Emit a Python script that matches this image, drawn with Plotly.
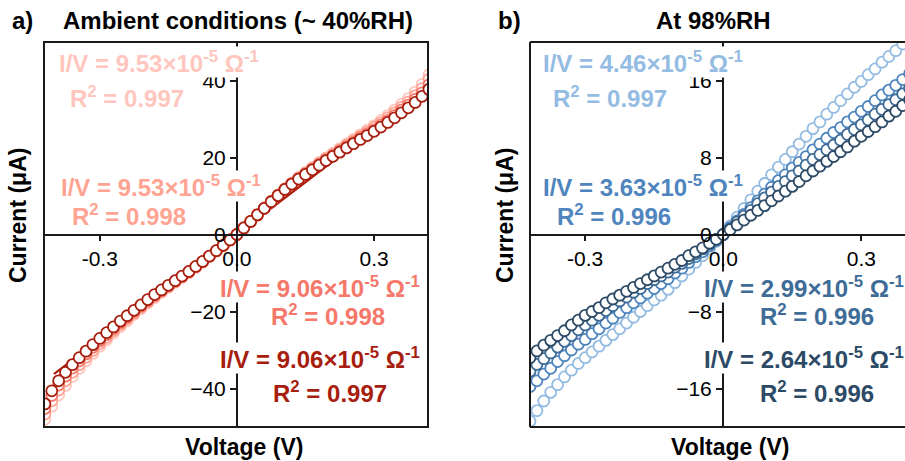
import plotly.graph_objects as go

# ---------------- data ----------------
V = [-0.42, -0.405, -0.39, -0.375, -0.36, -0.345, -0.33, -0.315, -0.30, -0.285,
     -0.27, -0.255, -0.24, -0.225, -0.21, -0.195, -0.18, -0.165, -0.15, -0.135,
     -0.12, -0.105, -0.09, -0.075, -0.06, -0.045, -0.03, -0.015, 0.0,
     0.015, 0.03, 0.045, 0.06, 0.075, 0.09, 0.105, 0.12, 0.135, 0.15, 0.165,
     0.18, 0.195, 0.21, 0.225, 0.24, 0.255, 0.27, 0.285, 0.30, 0.315,
     0.33, 0.345, 0.36, 0.375, 0.39, 0.405, 0.42]

# panel a (ambient) currents, uA
a_pink = [-48.0, -44.6, -41.7, -39.2, -36.9, -34.8, -32.8, -30.9, -29.0, -27.3,
          -25.6, -23.9, -22.4, -20.8, -19.3, -17.8, -16.4, -15.0, -13.7, -12.4,
          -11.1, -9.9, -8.5, -7.2, -5.7, -4.3, -2.9, -1.4, 0.0,
          1.7, 3.4, 5.1, 6.9, 8.6, 10.3, 11.9, 13.4, 14.8, 16.1, 17.4,
          18.7, 19.9, 21.1, 22.3, 23.5, 24.7, 25.9, 27.1, 28.3, 29.6,
          30.9, 32.3, 33.8, 35.3, 37.0, 39.0, 41.5]
a_salmon = [-46.6, -43.2, -40.4, -38.0, -35.8, -33.8, -31.9, -30.1, -28.3, -26.7,
            -25.0, -23.4, -21.9, -20.4, -18.9, -17.5, -16.1, -14.8, -13.5, -12.3,
            -11.0, -9.8, -8.4, -7.1, -5.7, -4.3, -2.9, -1.4, 0.0,
            1.7, 3.4, 5.1, 6.9, 8.6, 10.2, 11.8, 13.3, 14.7, 15.9, 17.2,
            18.5, 19.7, 20.8, 22.0, 23.2, 24.3, 25.5, 26.6, 27.8, 29.0,
            30.3, 31.6, 33.0, 34.4, 36.0, 37.9, 40.3]
a_coral = [-45.2, -41.8, -39.1, -36.8, -34.7, -32.8, -31.0, -29.3, -27.6, -26.0,
           -24.5, -22.9, -21.5, -20.0, -18.6, -17.2, -15.8, -14.6, -13.4, -12.1,
           -10.9, -9.7, -8.4, -7.1, -5.6, -4.2, -2.8, -1.4, 0.0,
           1.7, 3.4, 5.1, 6.8, 8.5, 10.2, 11.8, 13.2, 14.5, 15.8, 17.0,
           18.2, 19.4, 20.5, 21.7, 22.8, 23.9, 25.1, 26.1, 27.2, 28.4,
           29.6, 30.9, 32.3, 33.6, 35.1, 36.8, 38.9]
a_dark = [-44.0, -40.6, -38.0, -35.8, -33.8, -32.0, -30.3, -28.6, -27.0, -25.5,
          -24.0, -22.5, -21.1, -19.7, -18.3, -16.9, -15.6, -14.4, -13.2, -12.0,
          -10.8, -9.6, -8.3, -7.0, -5.6, -4.2, -2.8, -1.4, 0.0,
          1.7, 3.4, 5.1, 6.8, 8.5, 10.1, 11.7, 13.1, 14.4, 15.6, 16.8,
          18.0, 19.2, 20.3, 21.4, 22.5, 23.6, 24.7, 25.7, 26.8, 27.9,
          29.1, 30.3, 31.6, 32.9, 34.3, 35.9, 37.7]

# panel b (98%RH) currents, uA
b_light = [-19.4, -18.3, -17.3, -16.4, -15.6, -14.8, -14.1, -13.4, -12.8, -12.2,
           -11.6, -11.0, -10.4, -9.8, -9.2, -8.6, -8.0, -7.4, -6.8, -6.3,
           -5.7, -5.0, -4.3, -3.6, -2.9, -2.2, -1.5, -0.7, 0.0,
           0.9, 1.8, 2.7, 3.6, 4.5, 5.3, 6.2, 7.0, 7.8, 8.6, 9.4,
           10.2, 11.0, 11.7, 12.5, 13.2, 13.9, 14.6, 15.3, 15.9, 16.6,
           17.2, 17.9, 18.5, 19.1, 19.8, 20.4, 21.1]
b_medium = [-15.8, -15.2, -14.5, -13.9, -13.2, -12.6, -12.0, -11.4, -10.9, -10.3,
            -9.8, -9.2, -8.7, -8.1, -7.6, -7.1, -6.6, -6.1, -5.6, -5.1,
            -4.6, -4.0, -3.5, -2.9, -2.3, -1.8, -1.2, -0.6, 0.0,
            0.7, 1.4, 2.1, 2.8, 3.5, 4.2, 4.9, 5.6, 6.2, 6.9, 7.5,
            8.1, 8.8, 9.4, 10.0, 10.6, 11.1, 11.7, 12.2, 12.8, 13.3,
            13.9, 14.5, 15.0, 15.5, 16.1, 16.7, 17.3]
b_steel = [-14.2, -13.5, -12.9, -12.3, -11.7, -11.1, -10.5, -9.9, -9.4, -8.9,
           -8.4, -7.9, -7.4, -6.9, -6.5, -6.0, -5.6, -5.1, -4.7, -4.3,
           -3.9, -3.4, -3.0, -2.5, -2.0, -1.5, -1.0, -0.5, 0.0,
           0.6, 1.3, 1.9, 2.5, 3.2, 3.8, 4.4, 5.0, 5.5, 6.1, 6.6,
           7.2, 7.8, 8.3, 8.8, 9.3, 9.8, 10.4, 10.9, 11.4, 11.9,
           12.5, 13.0, 13.5, 14.0, 14.6, 15.2, 15.8]
b_navy = [-12.8, -12.1, -11.5, -11.0, -10.5, -10.0, -9.4, -8.9, -8.4, -8.0,
          -7.6, -7.1, -6.7, -6.3, -5.9, -5.5, -5.1, -4.7, -4.3, -3.9,
          -3.5, -3.1, -2.7, -2.2, -1.8, -1.4, -0.9, -0.5, 0.0,
          0.5, 1.0, 1.5, 2.0, 2.5, 3.0, 3.5, 4.0, 4.5, 5.0, 5.5,
          6.1, 6.6, 7.1, 7.6, 8.1, 8.6, 9.1, 9.7, 10.2, 10.7,
          11.2, 11.7, 12.3, 12.8, 13.4, 14.0, 14.6]

# linear fits (I/V, uA per V) for panel a
a_slopes = [95.3, 95.3, 90.6, 90.6]
fit_V = [-0.40, 0.42]

a_labels = [("9.53", "0.997"), ("9.53", "0.998"), ("9.06", "0.998"), ("9.06", "0.997")]
b_labels = [("4.46", "0.997"), ("3.63", "0.996"), ("2.99", "0.996"), ("2.64", "0.996")]

a_colors = ["#FFC6BE", "#FFA393", "#F5786A", "#A81E0E"]
b_colors = ["#94BCE3", "#4F85BE", "#3E6C97", "#2C4A66"]

a_xticks = [-0.3, 0.0, 0.3]
a_xtext = ["-0.3", "0.0", "0.3"]
a_yticks = [-40, -20, 0, 20, 40]
b_yticks = [-16, -8, 0, 8, 16]

# ---------------- layout helpers ----------------
W, H = 905, 461
FONT = "Liberation Sans, Arial, sans-serif"
INK = "#1a1a1a"
MSIZE = 11
MLINE = 1.8


def px(x):
    return x / W


def py(y):
    return 1 - y / H


fig = go.Figure()

a_series = [a_pink, a_salmon, a_coral, a_dark]
for s, c, k in zip(a_series, a_colors, a_slopes):
    fig.add_trace(go.Scatter(x=fit_V, y=[k * v for v in fit_V], mode="lines",
                             line=dict(color=c, width=2), xaxis="x", yaxis="y",
                             hoverinfo="skip"))
for s, c in zip(a_series, a_colors):
    fig.add_trace(go.Scatter(x=V, y=s, mode="markers", xaxis="x", yaxis="y",
                             marker=dict(symbol="circle", size=MSIZE, color="white",
                                         line=dict(color=c, width=MLINE))))

b_series = [b_light, b_medium, b_steel, b_navy]
for s, c in zip(b_series, b_colors):
    fig.add_trace(go.Scatter(x=V, y=s, mode="markers", xaxis="x2", yaxis="y2",
                             marker=dict(symbol="circle", size=MSIZE, color="white",
                                         line=dict(color=c, width=MLINE))))

ydom = [py(427), py(42)]
yzero = (ydom[0] + ydom[1]) / 2

tickfont = dict(family=FONT, size=21, color="black")
common_x = dict(showline=True, linecolor=INK, linewidth=2, ticks="outside",
                ticklen=5, tickwidth=2, tickcolor=INK, showgrid=False,
                zeroline=False, tickfont=tickfont, anchor="free", position=yzero)
common_y = dict(showline=True, linecolor=INK, linewidth=2, ticks="outside",
                ticklen=6, tickwidth=2, tickcolor=INK, showgrid=False,
                zeroline=False, tickfont=tickfont, anchor="free", domain=ydom)

fig.update_layout(
    width=W, height=H, margin=dict(l=0, r=0, t=0, b=0),
    paper_bgcolor="white", plot_bgcolor="white", showlegend=False,
    xaxis=dict(domain=[px(44), px(428)], range=[-0.422, 0.418],
               tickvals=a_xticks, ticktext=a_xtext, **common_x),
    yaxis=dict(range=[-50, 50], tickvals=a_yticks, position=px(237), **common_y),
    xaxis2=dict(domain=[px(530), 1.0], range=[-0.42, 0.395],
                tickvals=a_xticks, ticktext=a_xtext, **common_x),
    yaxis2=dict(range=[-20, 20], tickvals=b_yticks, position=px(723), **common_y),
)

# frames
shapes = [
    dict(type="rect", xref="paper", yref="paper", x0=px(44), x1=px(428),
         y0=ydom[0], y1=ydom[1], line=dict(color=INK, width=2)),
    dict(type="line", xref="paper", yref="paper", x0=px(530), x1=1.02,
         y0=ydom[1], y1=ydom[1], line=dict(color=INK, width=2)),
    dict(type="line", xref="paper", yref="paper", x0=px(530), x1=px(530),
         y0=ydom[0], y1=ydom[1], line=dict(color=INK, width=2)),
    dict(type="line", xref="paper", yref="paper", x0=px(530), x1=1.02,
         y0=ydom[0], y1=ydom[0], line=dict(color=INK, width=2)),
]
fig.update_layout(shapes=shapes)


def ann(text, x, y, size, color="black", xanchor="center", angle=0, bg=None):
    d = dict(text=text, x=px(x), y=py(y), xref="paper", yref="paper",
             showarrow=False, xanchor=xanchor, yanchor="middle", textangle=angle,
             font=dict(family=FONT, size=size, color=color, weight="bold"))
    if bg:
        d.update(bgcolor=bg, borderpad=0)
    fig.add_annotation(**d)


def iv(val):
    return f"I/V = {val}×10<sup>-5</sup> Ω<sup>-1</sup>"


def r2(val):
    return f"R<sup>2</sup> = {val}"


# titles
ann("a)", 22, 20, 24)
ann("Ambient conditions (~ 40%RH)", 238, 20, 24)
ann("b)", 509, 20, 24)
ann("At 98%RH", 713, 20, 24)

# axis titles
ann("Current (μA)", 18, 216, 23, angle=-90)
ann("Voltage (V)", 244, 447, 23)
ann("Current (μA)", 505, 216, 23, angle=-90)
ann("Voltage (V)", 730, 447, 23)

# panel a fit labels
a_pos = [((159, 62), (127, 97)), ((161, 186), (129, 215)),
         ((320, 287), (328, 315)), ((320, 358), (330, 392))]
for (s, r), ((x1, y1), (x2, y2)), c in zip(a_labels, a_pos, a_colors):
    ann(iv(s), x1, y1, 24, c, bg="white")
    ann(r2(r), x2, y2, 24, c, bg="white")

# panel b fit labels
b_pos = [((643, 62), (610, 97)), ((643, 186), (614, 215))]
for (s, r), ((x1, y1), (x2, y2)), c in zip(b_labels[:2], b_pos, b_colors[:2]):
    ann(iv(s), x1, y1, 24, c, bg="white")
    ann(r2(r), x2, y2, 24, c, bg="white")
b_pos2 = [((703, 287), (817, 315)), ((703, 358), (817, 392))]
for (s, r), ((x1, y1), (x2, y2)), c in zip(b_labels[2:], b_pos2, b_colors[2:]):
    ann(iv(s), x1, y1, 24, c, xanchor="left", bg="white")
    ann(r2(r), x2, y2, 24, c, bg="white")

fig.write_html("out.html")
